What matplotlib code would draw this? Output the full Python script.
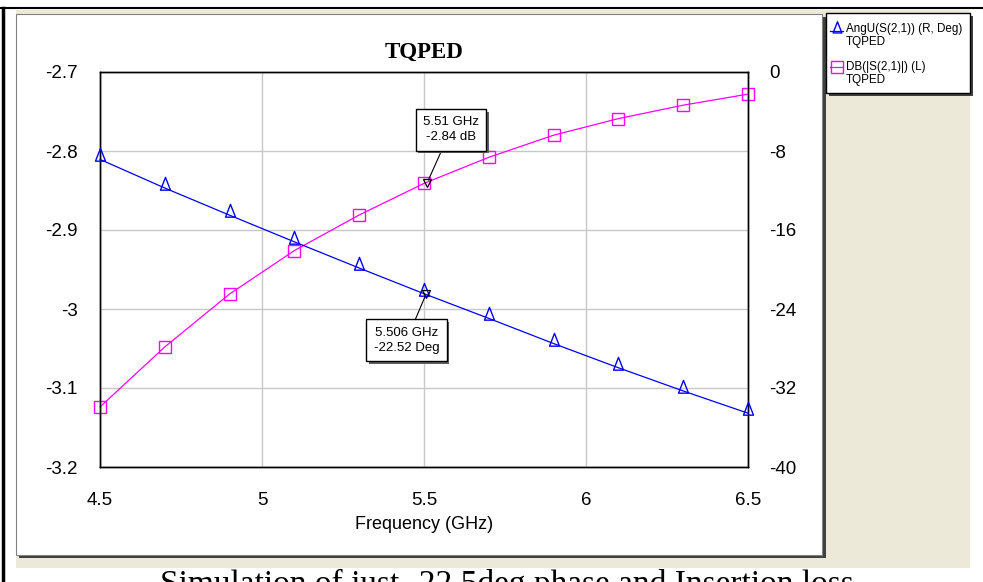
import numpy as np
import matplotlib.pyplot as plt
from matplotlib.patches import Rectangle
from matplotlib.lines import Line2D
from matplotlib.path import Path
import matplotlib.patheffects as pe

# data
freq = [4.5, 4.7, 4.9, 5.1, 5.3, 5.5, 5.7, 5.9, 6.1, 6.3, 6.5]
db_s21 = [-3.124, -3.048, -2.981, -2.926, -2.881, -2.841, -2.808, -2.780, -2.759, -2.742, -2.728]
ang_s21 = [-8.85, -11.75, -14.5, -17.2, -19.85, -22.45, -24.95, -27.5, -29.95, -32.3, -34.55]

left_ticks = [-3.2, -3.1, -3.0, -2.9, -2.8, -2.7]
left_labels = ['-3.2', '-3.1', '-3', '-2.9', '-2.8', '-2.7']
right_ticks = [-40, -32, -24, -16, -8, 0]
x_ticks = [4.5, 5, 5.5, 6, 6.5]
x_labels = ['4.5', '5', '5.5', '6', '6.5']

mk_db = (5.51, -2.84)
mk_ang = (5.506, -22.52)

W, H = 983, 582
plt.rcParams['font.family'] = ['Liberation Sans', 'DejaVu Sans']
fig = plt.figure(figsize=(W / 100, H / 100), dpi=100)
fig.patch.set_facecolor('white')


def px_rect(x0, y0, x1, y1, **kw):
    r = Rectangle((x0 / W, 1 - y1 / H), (x1 - x0) / W, (y1 - y0) / H,
                  transform=fig.transFigure, **kw)
    fig.add_artist(r)
    return r


# window frame / background
px_rect(16, 10, 970, 568, facecolor='#ECE9D8', edgecolor='none', zorder=-20)
px_rect(19, 17, 826, 558, facecolor='#404040', edgecolor='none', zorder=-19)
px_rect(16, 14, 822, 555, facecolor='white', edgecolor='#808080', lw=0.8, zorder=-18)
fig.add_artist(Line2D([0, 1], [1 - 8 / H] * 2, color='black', lw=1.5,
                      transform=fig.transFigure))
fig.add_artist(Line2D([3 / W] * 2, [0, 1 - 8 / H], color='black', lw=2.5,
                      transform=fig.transFigure))

# axes
ax = fig.add_axes([100 / W, 1 - 467 / H, 648 / W, 395 / H])
ax2 = ax.twinx()

# triangle marker with the line running near its base (AWR style)
tri = Path([(-0.45, -0.15), (0.45, -0.15), (0.0, 1.0), (-0.45, -0.15)],
           [Path.MOVETO, Path.LINETO, Path.LINETO, Path.CLOSEPOLY])

ax.plot(freq, db_s21, color='#FF00FF', lw=0.9, marker='s', ms=8.5,
        mfc='none', mec='#FF00FF', mew=1.0, clip_on=False, zorder=3)
ax2.plot(freq, ang_s21, color='#0000FF', lw=0.9, marker=tri, ms=16,
         mfc='none', mec='#0000FF', mew=1.0, clip_on=False, zorder=3)

ax.set_xlim(4.5, 6.5)
ax.set_ylim(-3.2, -2.7)
ax2.set_ylim(-40, 0)
ax.set_xticks(x_ticks, x_labels)
ax.set_yticks(left_ticks, left_labels)
ax2.set_yticks(right_ticks, [str(t) for t in right_ticks])
ax.tick_params(axis='x', length=0, pad=18, labelsize=13.5)
ax.tick_params(axis='y', length=0, pad=16, labelsize=13.5)
ax2.tick_params(axis='y', length=0, pad=15, labelsize=13.5)
ax.grid(True, color='#C8C8C8', lw=1.0)
for a in (ax, ax2):
    for s in a.spines.values():
        s.set_color('black')
        s.set_linewidth(1.0)

ax.set_xlabel('Frequency (GHz)', fontsize=13, labelpad=5)
ax.set_title('TQPED', fontfamily='Liberation Serif', fontweight='bold',
             fontsize=16.5, pad=10)

# markers with readouts
ax.plot([mk_db[0]], [mk_db[1]], marker='v', ms=6, mfc='none', mec='black',
        mew=0.9, zorder=5)
ax2.plot([mk_ang[0]], [mk_ang[1]], marker='v', ms=6, mfc='none', mec='black',
         mew=0.9, zorder=5)

box = dict(boxstyle='square,pad=0.55', fc='white', ec='black', lw=1.0)
t1 = ax.annotate(f'{mk_db[0]} GHz\n{mk_db[1]} dB', xy=mk_db,
                 xytext=(17, 38), textcoords='offset points',
                 ha='center', va='center', fontsize=9.5, linespacing=1.35,
                 bbox=box,
                 arrowprops=dict(arrowstyle='-', color='black', lw=0.8,
                                 shrinkA=0, shrinkB=2), zorder=6)
t2 = ax2.annotate(f'{mk_ang[0]} GHz\n{mk_ang[1]} Deg', xy=mk_ang,
                  xytext=(-14, -33), textcoords='offset points',
                  ha='center', va='center', fontsize=9.5, linespacing=1.35,
                  bbox=box,
                  arrowprops=dict(arrowstyle='-', color='black', lw=0.8,
                                  shrinkA=0, shrinkB=2), zorder=6)
for t in (t1, t2):
    t.get_bbox_patch().set_path_effects(
        [pe.SimplePatchShadow(offset=(2, -2), shadow_rgbFace='#606060', alpha=1.0),
         pe.Normal()])

# legend window
px_rect(829, 16, 973, 96, facecolor='#404040', edgecolor='none', zorder=4)
px_rect(826, 13, 970, 93, facecolor='white', edgecolor='black', lw=1.0, zorder=5)
fig.add_artist(Line2D([830 / W, 843 / W], [1 - 31 / H] * 2, color='#0000FF',
                      lw=0.9, transform=fig.transFigure, zorder=6))
fig.add_artist(Line2D([836.5 / W], [1 - 31 / H], lw=0, marker=tri, ms=14,
                      mfc='none', mec='#0000FF', mew=1.0,
                      transform=fig.transFigure, zorder=6))
fig.add_artist(Line2D([830 / W, 843 / W], [1 - 67 / H] * 2, color='#FF00FF',
                      lw=0.9, transform=fig.transFigure, zorder=6))
fig.add_artist(Line2D([836.5 / W], [1 - 67 / H], lw=0, marker='s', ms=9,
                      mfc='none', mec='#FF00FF', mew=1.0,
                      transform=fig.transFigure, zorder=6))
leg_kw = dict(fontsize=8.4, va='center', ha='left', transform=fig.transFigure, zorder=7)
fig.text(846 / W, 1 - 29 / H, 'AngU(S(2,1)) (R, Deg)', **leg_kw)
fig.text(846 / W, 1 - 42 / H, 'TQPED', **leg_kw)
fig.text(846 / W, 1 - 67 / H, 'DB(|S(2,1)|) (L)', **leg_kw)
fig.text(846 / W, 1 - 80 / H, 'TQPED', **leg_kw)

# caption (cut off at the bottom of the screenshot)
fig.text(160 / W, 1 - 569 / H, 'Simulation of just -22.5deg phase and Insertion loss',
         fontfamily='Liberation Serif', fontsize=24, va='top', ha='left')

fig.savefig('out.png', dpi=100)
